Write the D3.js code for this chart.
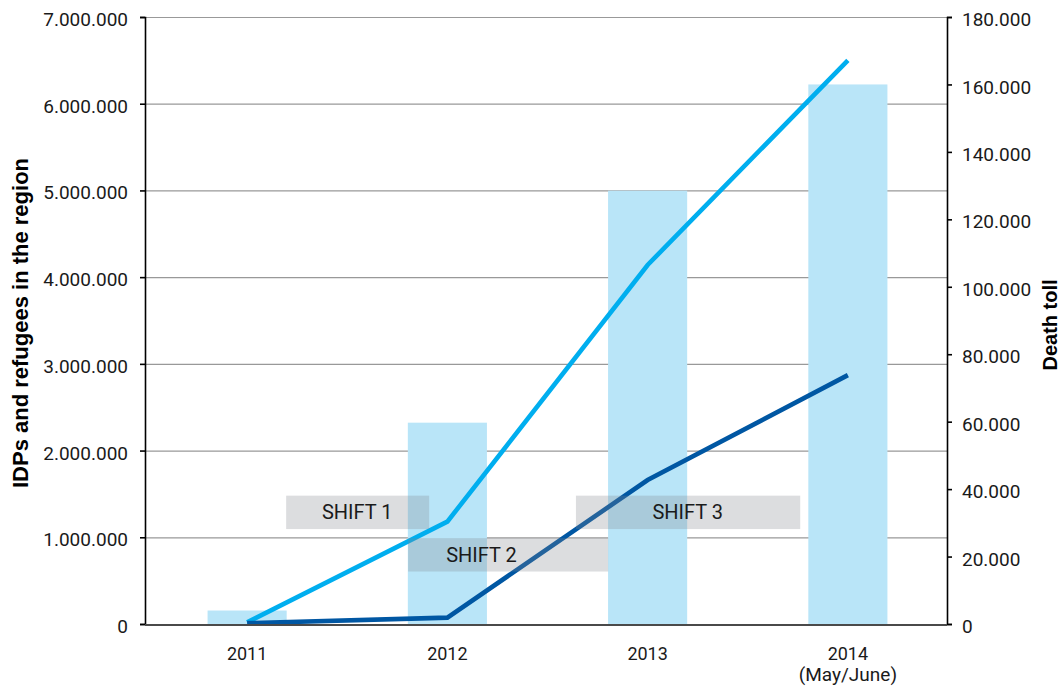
<!DOCTYPE html>
<html>
<head>
<meta charset="utf-8">
<script src="https://cdn.jsdelivr.net/npm/d3@7"></script>
<style>
  body { margin: 0; background: #fff; }
  svg { display: block; }
</style>
</head>
<body>
<svg width="1062" height="692"></svg>
<script>
// data
let years = ["2011", "2012", "2013", "2014"];
let yearNotes = ["", "", "", "(May/June)"];
let deathToll = [4000, 59700, 128500, 160000];          // bars, right axis
let idps = [20000, 1180000, 4140000, 6500000];          // light line, left axis
let refugees = [10000, 73000, 1660000, 2870000];        // dark line, left axis
let leftTicks = [0, 1000000, 2000000, 3000000, 4000000, 5000000, 6000000, 7000000];
let rightTicks = [0, 20000, 40000, 60000, 80000, 100000, 120000, 140000, 160000, 180000];

// annotation boxes: x in year index, y in left-axis units
let shifts = [
  { label: "SHIFT 1", x0: 0.195, x1: 0.909, y0: 1095000, y1: 1480000, tx: 0.55 },
  { label: "SHIFT 2", x0: 0.804, x1: 1.803, y0: 605000, y1: 990000, tx: 1.17 },
  { label: "SHIFT 3", x0: 1.642, x1: 2.762, y0: 1095000, y1: 1480000, tx: 2.2 },
];

let svg = d3.select("svg");

let plotLeft = 145, plotRight = 947, plotTop = 17, plotBottom = 624;

let x = d3.scalePoint().domain(years).range([147, 948]).padding(0.5);
let xi = d3.scaleLinear().domain([0, 3]).range([x("2011"), x("2014")]);
let yL = d3.scaleLinear().domain([0, 7000000]).range([plotBottom, plotTop]);
let yR = d3.scaleLinear().domain([0, 180000]).range([plotBottom, plotTop]);
let barW = x.step() * 0.395;

let locale = d3.formatLocale({ decimal: ",", thousands: ".", grouping: [3], currency: ["", ""] });
let fmt = locale.format(",d");

// gridlines
svg.append("g")
  .selectAll("line")
  .data(leftTicks.filter((d) => d > 0))
  .enter()
  .append("line")
  .attr("x1", plotLeft)
  .attr("x2", plotRight)
  .attr("y1", (d) => yL(d) + 0.5)
  .attr("y2", (d) => yL(d) + 0.5)
  .style("stroke", "#999")
  .style("stroke-width", 1.2);

// bars
svg.append("g")
  .selectAll("rect")
  .data(years)
  .enter()
  .append("rect")
  .attr("x", (d) => x(d) - barW / 2)
  .attr("width", barW)
  .attr("y", (d, i) => yR(deathToll[i]))
  .attr("height", (d, i) => plotBottom - yR(deathToll[i]))
  .attr("fill", "#b9e5f8");

// lines
let line = d3.line()
  .x((d, i) => x(years[i]))
  .y((d) => yL(d));

svg.append("path")
  .datum(idps)
  .attr("d", line)
  .attr("fill", "none")
  .attr("stroke", "#00aeef")
  .attr("stroke-width", 4.6);

svg.append("path")
  .datum(refugees)
  .attr("d", line)
  .attr("fill", "none")
  .attr("stroke", "#0057a3")
  .attr("stroke-width", 4.6);

// shift boxes
let box = svg.append("g")
  .selectAll("g")
  .data(shifts)
  .enter()
  .append("g");

box.append("rect")
  .attr("x", (d) => xi(d.x0))
  .attr("width", (d) => xi(d.x1) - xi(d.x0))
  .attr("y", (d) => yL(d.y1))
  .attr("height", (d) => yL(d.y0) - yL(d.y1))
  .attr("fill", "rgb(130,133,140)")
  .attr("fill-opacity", 0.28);

box.append("text")
  .attr("x", (d) => xi(d.tx))
  .attr("y", (d) => (yL(d.y0) + yL(d.y1)) / 2 + 7)
  .attr("text-anchor", "middle")
  .style("font-family", "Roboto, sans-serif")
  .style("font-size", "20px")
  .style("fill", "#1a1a1a")
  .text((d) => d.label);

// axes
let axisL = svg.append("g")
  .attr("transform", `translate(${plotLeft},0)`)
  .call(d3.axisLeft(yL).tickValues(leftTicks).tickFormat(fmt).tickSize(5).tickSizeOuter(5).tickPadding(12));

let axisR = svg.append("g")
  .attr("transform", `translate(${plotRight},0)`)
  .call(d3.axisRight(yR).tickValues(rightTicks).tickFormat(fmt).tickSize(5).tickSizeOuter(5).tickPadding(10));

[axisL, axisR].forEach((a) => {
  a.select(".domain").attr("stroke", "#000").attr("stroke-width", 1.6);
  a.selectAll(".tick line").attr("stroke", "#000").attr("stroke-width", 1.6);
  a.selectAll("text")
    .attr("dy", "0.45em")
    .style("font-family", "Roboto, sans-serif")
    .style("font-size", "19px")
    .style("fill", "#1a1a1a");
});

// x baseline
svg.append("line")
  .attr("x1", plotLeft)
  .attr("x2", plotRight)
  .attr("y1", plotBottom + 1)
  .attr("y2", plotBottom + 1)
  .style("stroke", "#4a4a4a")
  .style("stroke-width", 2);

svg.append("g")
  .selectAll("text")
  .data(years)
  .enter()
  .append("text")
  .attr("x", (d) => x(d))
  .attr("y", 660)
  .attr("text-anchor", "middle")
  .style("font-family", "Roboto, sans-serif")
  .style("font-size", "18px")
  .style("fill", "#1a1a1a")
  .text((d) => d);

svg.append("g")
  .selectAll("text")
  .data(years.filter((d, i) => yearNotes[i]))
  .enter()
  .append("text")
  .attr("x", (d) => x(d))
  .attr("y", 681)
  .attr("text-anchor", "middle")
  .style("font-family", "Roboto, sans-serif")
  .style("font-size", "19px")
  .style("fill", "#1a1a1a")
  .text((d) => yearNotes[years.indexOf(d)]);

// axis titles
svg.append("text")
  .attr("transform", "translate(28,323) rotate(-90)")
  .attr("text-anchor", "middle")
  .style("font-family", "'Liberation Sans', Arial, sans-serif")
  .style("font-weight", "bold")
  .style("font-size", "22px")
  .style("fill", "#000")
  .text("IDPs and refugees in the region");

svg.append("text")
  .attr("transform", "translate(1057,325) rotate(-90)")
  .attr("text-anchor", "middle")
  .style("font-family", "'Liberation Sans', Arial, sans-serif")
  .style("font-weight", "bold")
  .style("font-size", "20px")
  .style("fill", "#000")
  .text("Death toll");
</script>
</body>
</html>
